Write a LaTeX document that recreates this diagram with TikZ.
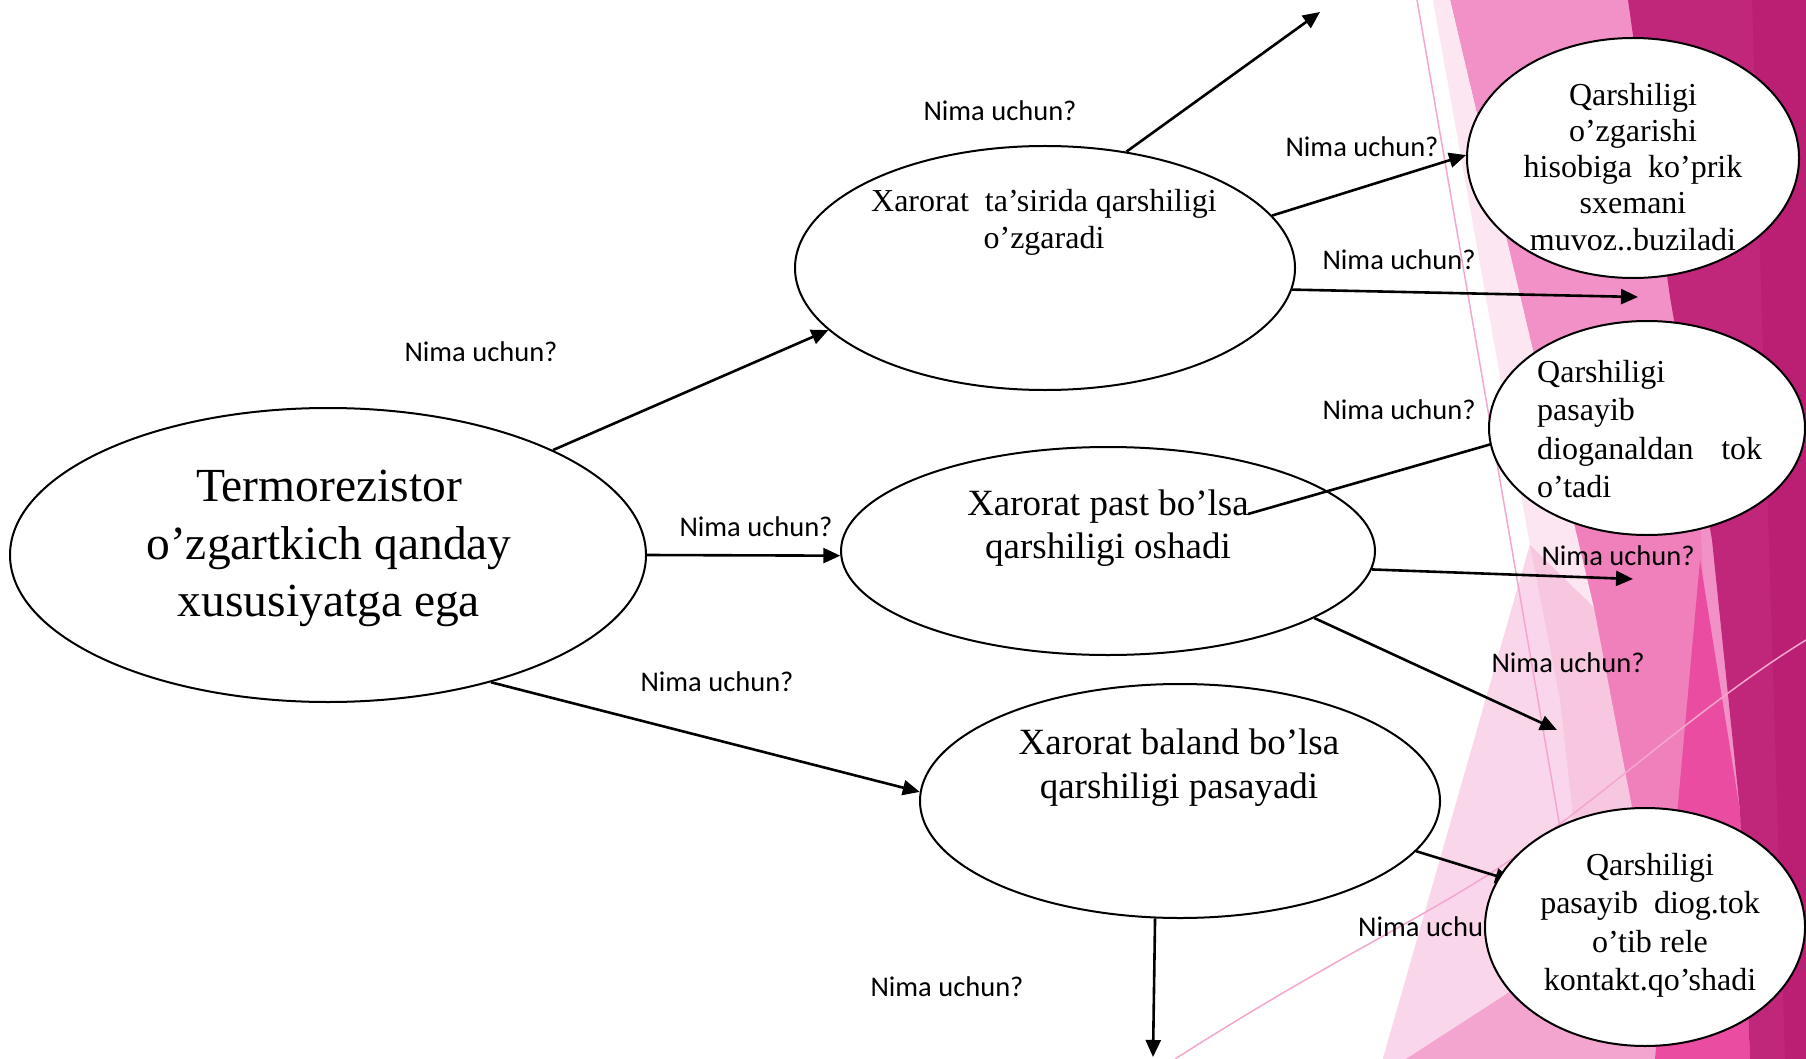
\documentclass[tikz,border=0pt]{standalone}
\usepackage{fontspec}
\setmainfont{Liberation Serif}
\newfontfamily\labfont{Carlito}
\usetikzlibrary{shapes.geometric,arrows.meta}
\pgfdeclarelayer{fg}
\pgfsetlayers{main,fg}
\definecolor{pinkA}{HTML}{F291C7}
\definecolor{pinkM}{HTML}{F080BC}
\definecolor{midlight}{HTML}{F7C6DF}
\definecolor{lightp}{HTML}{F9D6E9}
\definecolor{sliver}{HTML}{FCE6F1}
\definecolor{botp}{HTML}{F3A5CF}
\definecolor{hotp}{HTML}{E94CA0}
\definecolor{darkp}{HTML}{C02679}
\definecolor{darkerp}{HTML}{BA1F74}
\definecolor{thinpink}{HTML}{F4A7CE}
\tikzset{
  ell/.style={ellipse, draw=black, line width=2pt, fill=white, inner sep=0pt},
  conn/.style={line width=2.6pt, -{Triangle[length=17pt,width=15pt]}},
  why/.style={font=\labfont\fontsize{28.5}{34}\selectfont, inner sep=0pt},
  tA/.style={font=\fontsize{47.5}{57}\selectfont, inner sep=0pt, anchor=base},
  tB/.style={font=\fontsize{32}{38}\selectfont, inner sep=0pt, anchor=base},
  tC/.style={font=\fontsize{37}{44}\selectfont, inner sep=0pt, anchor=base},
  thinline/.style={draw=thinpink, line width=1.5pt},
}
\begin{document}
\begin{tikzpicture}[x=1pt,y=-1pt]
\useasboundingbox (0,0) rectangle (1806,1059);
\fill[white] (0,0) rectangle (1806,1059);
% background shards
\fill[pinkA] (1450,0) -- (1806,0) -- (1806,1059) -- (1700,1059) -- cycle;
\fill[pinkM] (1517,338) -- (1700,520) -- (1730,1059) -- (1640,1059) -- cycle;
\fill[sliver] (1433,0) -- (1450,0) -- (1594,608) -- (1530,545) -- cycle;
\fill[midlight] (1383,1059) -- (1530,545) -- (1594,608) -- (1680,1059) -- cycle;
\fill[lightp] (1383,1059) -- (1530,545) -- (1560,700) -- (1600,1059) -- cycle;
\fill[botp] (1406,1059) -- (1806,800) -- (1806,1059) -- cycle;
\fill[hotp] (1700,560) -- (1740,811) -- (1750,1059) -- (1655,1059) -- cycle;
\fill[darkp] (1628,0) -- (1806,0) -- (1806,1059) -- (1750,1059) -- (1740,811) -- (1712,540) -- (1670,297) -- cycle;
\fill[darkerp] (1752,0) -- (1806,0) -- (1806,1059) -- (1785,1059) -- cycle;
\draw[thinline] (1417,0) -- (1600,1059);
\draw[thinline] (1175,1059) .. controls (1330,960) and (1420,920) .. (1500,867) .. controls (1600,800) and (1700,705) .. (1806,640);

% main ellipses
\node[ell, minimum width=636pt, minimum height=294pt] (e1) at (328,555) {};
\node[ell, minimum width=500pt, minimum height=244pt] (e2) at (1045,268) {};
\node[ell, minimum width=534pt, minimum height=208pt] (e3) at (1108,551) {};
\node[ell, minimum width=520pt, minimum height=234pt] (e4) at (1180,801) {};

\node[tA] (t1a) at (329,501) {Termorezistor};
\node[tA] (t1b) at (329,559) {o’zgartkich qanday};
\node[tA] (t1c) at (329,616) {xususiyatga ega};
\node[tB] (t2a) at (1044,212) {Xarorat\ \ ta’sirida qarshiligi};
\node[tB] (t2b) at (1044,249) {o’zgaradi};
\node[tC] (t3a) at (1108,515) {Xarorat past bo’lsa};
\node[tC] (t3b) at (1108,558) {qarshiligi oshadi};
\node[tC] (t4a) at (1179,754) {Xarorat baland bo’lsa};
\node[tC] (t4b) at (1179,798) {qarshiligi pasayadi};

% right ellipses on top layer
\begin{pgfonlayer}{fg}
\node[ell, minimum width=332pt, minimum height=240pt] (e5) at (1633,158) {};
\node[ell, minimum width=316pt, minimum height=214pt] (e6) at (1647,428) {};
\node[ell, minimum width=320pt, minimum height=238pt] (e7) at (1645,927) {};
\node[tB] (t5a) at (1633,106) {Qarshiligi};
\node[tB] (t5b) at (1633,142) {o’zgarishi};
\node[tB] (t5c) at (1633,178) {hisobiga\ \ ko’prik};
\node[tB] (t5d) at (1633,214) {sxemani};
\node[tB] (t5e) at (1633,251) {muvoz..buziladi};
\node[tB, anchor=base west] (t6a) at (1537,382) {Qarshiligi};
\node[tB, anchor=base west] (t6b) at (1537,420) {pasayib};
\node[tB, anchor=base west] (t6c) at (1537,459) {\hbox to 225pt{dioganaldan\hfill tok}};
\node[tB, anchor=base west] (t6d) at (1537,497) {o’tadi};
\node[tB] (t7a) at (1650,875) {Qarshiligi};
\node[tB] (t7b) at (1650,913) {pasayib\ \ diog.tok};
\node[tB] (t7c) at (1650,952) {o’tib rele};
\node[tB] (t7d) at (1650,990) {kontakt.qo’shadi};
\end{pgfonlayer}

% labels
\node[why] (l1) at (1000,111) {Nima uchun?};
\node[why] (l2) at (481,352) {Nima uchun?};
\node[why] (l3) at (1362,147) {Nima uchun?};
\node[why] (l4) at (1399,260) {Nima uchun?};
\node[why] (l5) at (1399,410) {Nima uchun?};
\node[why] (l6) at (756,527) {Nima uchun?};
\node[why] (l7) at (1618,556) {Nima uchun?};
\node[why] (l8) at (717,682) {Nima uchun?};
\node[why] (l9) at (1568,663) {Nima uchun?};
\node[why, anchor=west] (l10) at (1358,927) {Nima uchun?};
\node[why] (l11) at (947,987) {Nima uchun?};

% free ends
\coordinate (a4) at (1320,12);
\coordinate (a6) at (1638,297);
\coordinate (a7s) at (1248,514);
\coordinate (a8) at (1633,579);
\coordinate (a9) at (1557,730);
\coordinate (a11) at (1153,1057);

% connectors
\draw[conn] (e1.25.7) -- (e2.196.5);
\draw[conn] (e1.0) -- (e3.181.9);
\draw[conn] (e1.322.4) -- (e4.178);
\draw[conn] (e2.55.2) -- (a4);
\draw[conn] (e2.13.5) -- (e5.179);
\draw[conn] (e2.355.9) -- (a6);
\draw[conn, shorten >=-20pt] (a7s) -- (e6.186.5);
\draw[conn] (e3.356.7) -- (a8);
\draw[conn] (e3.342.8) -- (a9);
\draw[conn, shorten >=-14pt] (e4.348.4) -- (e7.161);
\draw[conn] (e4.258.4) -- (a11);
\end{tikzpicture}
\end{document}
